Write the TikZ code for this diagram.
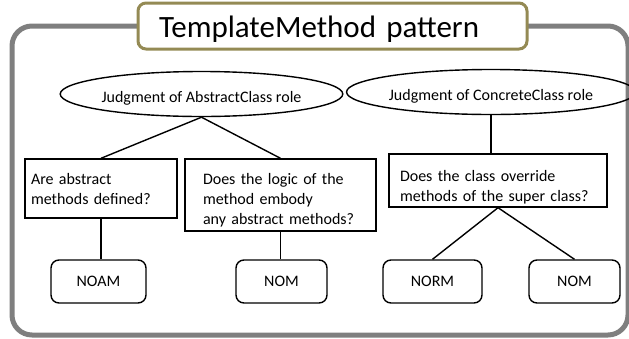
\documentclass[tikz,border=0pt]{standalone}
\usepackage{fontspec}
\setmainfont{Carlito}
\usetikzlibrary{shapes.geometric}
\definecolor{framegray}{HTML}{7F7F7F}
\definecolor{titleolive}{HTML}{948A54}
\begin{document}
\begin{tikzpicture}[x=1pt,y=-1pt,
  every node/.style={font=\fontsize{16}{20}\selectfont},
  wire/.style={line width=1.4pt},
  question/.style={draw, line width=1.4pt, rectangle, align=left, inner ysep=0pt, text height=12pt},
  leaf/.style={draw, line width=1.4pt, rounded corners=8pt, minimum height=43pt, inner sep=0pt},
  role/.style={draw, ellipse, line width=1.4pt, minimum height=45pt, inner sep=0pt,
               text height=16pt, text depth=0pt}]
\useasboundingbox (0,0) rectangle (629,338);

% outer frame
\draw[framegray, line width=5pt, rounded corners=20pt] (12,26) rectangle (628,335);

% title
\node[draw=titleolive, line width=3pt, fill=white, rounded corners=8pt,
      minimum width=389pt, minimum height=46pt, inner xsep=21pt, inner ysep=0pt,
      text width=347pt, align=left, text height=28pt, text depth=6pt,
      font=\fontsize{31}{37}\selectfont] (title) at (332.5,26) {TemplateMethod pattern};

% role ellipses
\node[role, minimum width=252pt] (abs) at (201.5,94) {Judgment of AbstractClass role};
\node[role, minimum width=258pt] (con) at (491,92) {Judgment of ConcreteClass role};

% questions
\node[question, minimum width=152pt, minimum height=59pt, inner xsep=6pt, text width=140pt,
      text depth=21pt] (q1) at (101,188.5) {Are abstract\\methods defined?};
\node[question, minimum width=191pt, minimum height=72pt, inner xsep=18pt, text width=155pt,
      text depth=34pt] (q2) at (280.5,195) {Does the logic of the\\method embody\\any abstract methods?};
\node[question, minimum width=218pt, minimum height=53pt, inner xsep=11pt, text width=196pt,
      text depth=11pt] (q3) at (498,180.5) {Does the class override\\methods of the super class?};

% metrics
\node[leaf, minimum width=95pt] (noam) at (98.5,281.5) {NOAM};
\node[leaf, minimum width=91pt] (nom1) at (281.5,281.5) {NOM};
\node[leaf, minimum width=99pt] (norm) at (432.5,281.5) {NORM};
\node[leaf, minimum width=91pt] (nom2) at (574.5,281.5) {NOM};

% connectors
\draw[wire] (abs.south) -- (q1.north);
\draw[wire] (abs.south) -- (q2.north);
\draw[wire] (con.south) -- (con.south |- q3.north);
\draw[wire] (q1.south) -- (q1.south |- noam.north);
\draw[wire] (q2.south) -- (q2.south |- nom1.north);
\draw[wire] (q3.south) -- (norm.north);
\draw[wire] (q3.south) -- (nom2.north);
\end{tikzpicture}
\end{document}
